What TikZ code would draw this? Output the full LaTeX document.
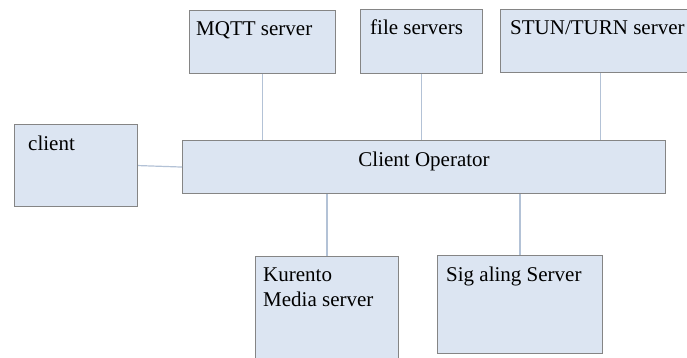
\documentclass[tikz,border=0pt]{standalone}
\usepackage{fontspec}
\setmainfont{Liberation Serif}
\usepackage{tikz}

\definecolor{boxfill}{HTML}{DCE5F2}
\definecolor{boxline}{HTML}{858585}
\definecolor{linkline}{HTML}{B3C2D6}

\tikzset{
  box/.style={draw=boxline, fill=boxfill, line width=1.1pt, inner sep=0pt, anchor=north west},
  lbl/.style={anchor=base west, inner sep=0pt, align=left, font=\fontsize{21}{25}\selectfont},
  link/.style={draw=linkline, line width=1.2pt}
}

\begin{document}
\begin{tikzpicture}[x=1pt,y=-1pt]
  \useasboundingbox (0,0) rectangle (687,358);
  \clip (0,0) rectangle (687,358);

  \node[box, minimum width=146pt, minimum height=63pt, label={[lbl, xshift=7pt, yshift=-26pt]north west:MQTT server}] (mqtt) at (189,10) {};
  \node[box, minimum width=122pt, minimum height=64pt, label={[lbl, xshift=10pt, yshift=-26pt]north west:file servers}] (files) at (360,9) {};
  \node[box, minimum width=200pt, minimum height=63pt, label={[lbl, xshift=10pt, yshift=-26pt]north west:STUN/TURN server}] (stun) at (500,9) {};

  \node[box, minimum width=123pt, minimum height=82pt, label={[lbl, xshift=14pt, yshift=-26pt]north west:client}] (client) at (14,124) {};
  \node[box, minimum width=483pt, minimum height=53pt] (oper) at (182,140) {};
  \node[lbl, anchor=base] (operlbl) at ([yshift=-27pt]oper.north) {Client Operator};

  % base of a two-line label is its last line
  \node[box, minimum width=143pt, minimum height=120pt, label={[lbl, xshift=8pt, yshift=-50pt]north west:Kurento\\Media server}] (kms) at (255,256) {};
  \node[box, minimum width=165pt, minimum height=98pt, label={[lbl, xshift=9pt, yshift=-26pt]north west:Sig aling Server}] (sig) at (437,255) {};

  \draw[link] (mqtt.south) -- (mqtt.south |- oper.north);
  \draw[link] (files.south) -- (files.south |- oper.north);
  \draw[link] (stun.south) -- (stun.south |- oper.north);
  \draw[link] (client.east) -- (oper.west);
  \draw[link] (kms.north |- oper.south) -- (kms.north);
  \draw[link] (sig.north |- oper.south) -- (sig.north);
\end{tikzpicture}
\end{document}
